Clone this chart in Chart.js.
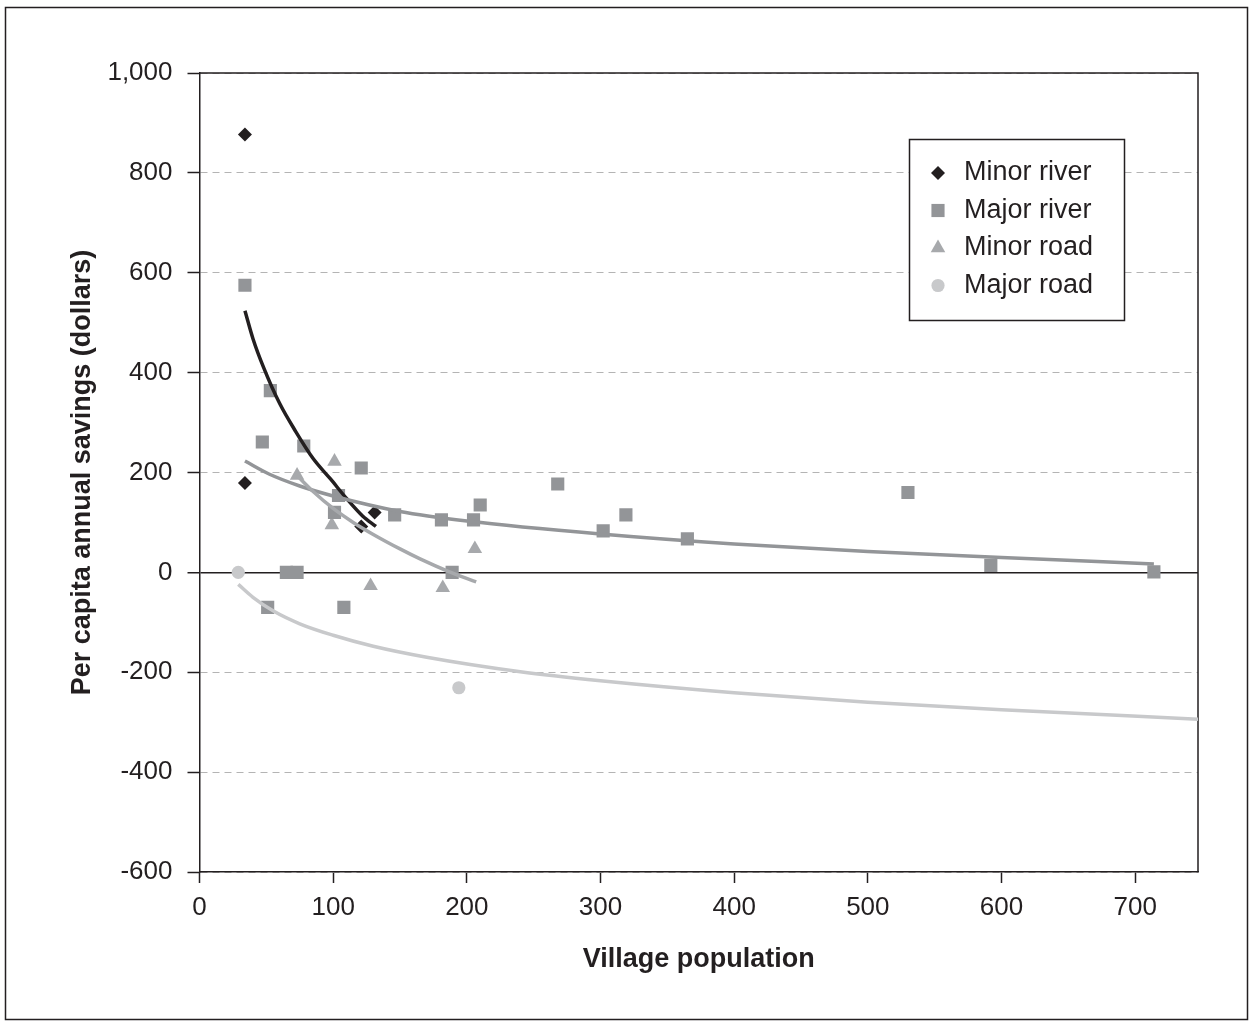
<!DOCTYPE html>
<html>
<head>
<meta charset="utf-8">
<script src="https://cdn.jsdelivr.net/npm/chart.js@4/dist/chart.umd.min.js"></script>
<style>
  html, body { margin: 0; padding: 0; background: #fff; }
  #wrap { width: 1253px; height: 1024px; }
</style>
</head>
<body>
<div id="wrap"><canvas id="chart" width="1253" height="1024"></canvas></div>
<script>
/* Per capita annual savings vs village population — scatter + trendlines */

const seriesNames = ["Minor river", "Major river", "Minor road", "Major road"];

const minorRiverX = [34, 34, 121, 131];
const minorRiverY = [877, 179, 92, 120];

const majorRiverX = [34, 53, 47, 78, 121, 104, 101, 146, 65, 73, 51, 108, 189, 181, 205, 210, 268, 302, 319, 365, 530, 592, 714];
const majorRiverY = [575, 364, 261, 253, 209, 154, 120, 115, 0, 0, -70, -70, 0, 105, 105, 135, 177, 83, 115, 67, 160, 14, 1];

const minorRoadX = [73, 101, 99, 128, 182, 206];
const minorRoadY = [194, 222, 95, -27, -31, 47];

const majorRoadX = [29, 194];
const majorRoadY = [0, -231];

// trendlines
const minorRiverTrendX = [34, 40, 48, 60, 72, 85, 98, 110, 122, 132];
const minorRiverTrendY = [524, 468, 410, 338, 282, 228, 187, 148, 113, 92];
const majorRiverTrendX = [34, 52, 75, 100, 150, 200, 300, 400, 500, 600, 714];
const majorRiverTrendY = [223, 197, 173, 153, 122, 103, 77, 57, 42, 30, 17];
const minorRoadTrendX = [73, 85, 100, 115, 130, 150, 165, 187, 207];
const minorRoadTrendY = [194, 162, 128, 100, 76, 47, 27, 1, -19];
const majorRoadTrendX = [29, 40, 55, 75, 100, 130, 170, 240, 300, 400, 500, 600, 747];
const majorRoadTrendY = [-24, -50, -77, -103, -126, -148, -170, -199, -217, -241, -260, -275, -294];

const xMin = 0, xMax = 747, xStep = 100;
const yMin = -600, yMax = 1000, yStep = 200;

const INK = "#231f20";
const FONT = "'Liberation Sans', Arial, sans-serif";
const colors = ["#231f20", "#939598", "#a7a9ac", "#c8c9cb"];
const styles = ["rectRot", "rect", "triangle", "circle"];
const radii = [7, 9.3, 8.4, 6.6];

const pts = (xs, ys) => xs.map((x, i) => ({ x, y: ys[i] }));
const isZero = (ctx) => ctx.tick && ctx.tick.value === 0;
const isGrid = (ctx) => ctx.tick && ctx.tick.value !== 0;

const markerSets = [
  [minorRiverX, minorRiverY],
  [majorRiverX, majorRiverY],
  [minorRoadX, minorRoadY],
  [majorRoadX, majorRoadY],
].map(([xs, ys], i) => ({
  label: seriesNames[i],
  data: pts(xs, ys),
  showLine: false,
  pointStyle: styles[i],
  pointRadius: radii[i],
  pointHoverRadius: radii[i],
  pointBackgroundColor: colors[i],
  pointBorderWidth: 0,
  order: 1,
}));

const trendSets = [
  [minorRiverTrendX, minorRiverTrendY],
  [majorRiverTrendX, majorRiverTrendY],
  [minorRoadTrendX, minorRoadTrendY],
  [majorRoadTrendX, majorRoadTrendY],
].map(([xs, ys], i) => ({
  label: seriesNames[i] + " trend",
  data: pts(xs, ys),
  showLine: true,
  borderColor: colors[i],
  borderWidth: 3.5,
  pointRadius: 0,
  cubicInterpolationMode: "monotone",
  order: (3 - i) * 0.1,
}));

const framePlugin = {
  id: "frame",
  beforeDraw(chart) {
    const c = chart.ctx;
    c.save();
    c.fillStyle = "#fff";
    c.fillRect(0, 0, chart.width, chart.height);
    c.strokeStyle = INK;
    c.lineWidth = 1.5;
    c.strokeRect(5.5, 7.5, 1242, 1012);
    c.restore();
  },
  beforeDatasetsDraw(chart) {
    const a = chart.chartArea;
    const c = chart.ctx;
    c.save();
    c.strokeStyle = INK;
    c.lineWidth = 1.5;
    c.beginPath();
    c.moveTo(a.left, a.top);
    c.lineTo(a.right, a.top);
    c.lineTo(a.right, a.bottom);
    c.stroke();
    c.restore();
  },
  afterDraw(chart) {
    // legend box inside plot
    const c = chart.ctx;
    const bx = 909, by = 139, bw = 215, bh = 181;
    c.save();
    c.fillStyle = "#fff";
    c.fillRect(bx, by, bw, bh);
    c.strokeStyle = INK;
    c.lineWidth = 1.5;
    c.strokeRect(bx + 0.5, by + 0.5, bw, bh);
    c.font = "27px " + FONT;
    c.textBaseline = "middle";
    seriesNames.forEach((name, i) => {
      const y = 173 + i * 37.5;
      c.fillStyle = colors[i];
      Chart.helpers.drawPoint(c, { pointStyle: styles[i], radius: radii[i], rotation: 0, borderWidth: 0 }, 938, y);
      c.fillStyle = INK;
      c.fillText(name, 964, y);
    });
    c.restore();
  },
};

new Chart(document.getElementById("chart"), {
  type: "scatter",
  data: { datasets: [...trendSets, ...markerSets] },
  plugins: [framePlugin],
  options: {
    responsive: false,
    animation: false,
    layout: { padding: { top: 73, right: 55, left: 0, bottom: 0 } },
    plugins: { legend: { display: false }, tooltip: { enabled: false } },
    scales: {
      x: {
        type: "linear",
        min: xMin,
        max: xMax,
        afterFit: (s) => { s.height = 152; },
        ticks: {
          stepSize: xStep,
          includeBounds: false,
          color: INK,
          padding: 9,
          font: { family: FONT, size: 26 },
        },
        grid: { drawOnChartArea: false, tickLength: 11, tickColor: INK, tickWidth: 1.5 },
        border: { color: INK, width: 1.5 },
        title: {
          display: true,
          text: "Village population",
          color: INK,
          font: { family: FONT, size: 27, weight: "bold" },
          padding: { top: 0, bottom: 48 },
        },
      },
      y: {
        type: "linear",
        min: yMin,
        max: yMax,
        afterFit: (s) => { s.width = 199.5; },
        ticks: {
          stepSize: yStep,
          color: INK,
          padding: 15,
          font: { family: FONT, size: 26 },
          callback: (v) => Number(v).toLocaleString("en-US"),
        },
        grid: {
          color: (ctx) => (isZero(ctx) ? INK : "#b4b4b4"),
          lineWidth: (ctx) => (isZero(ctx) ? 1.5 : 1),
          borderDash: (ctx) => (isGrid(ctx) ? [7, 5] : []),
          tickBorderDash: [],
          tickLength: 12,
          tickColor: INK,
          tickWidth: 1.5,
        },
        border: {
          color: INK,
          width: 1.5,
          dash: (ctx) => (isGrid(ctx) ? [7, 5] : []),
        },
        title: {
          display: true,
          text: "Per capita annual savings (dollars)",
          color: INK,
          font: { family: FONT, size: 27, weight: "bold" },
          padding: { top: 66, bottom: 0 },
        },
      },
    },
  },
});
</script>
</body>
</html>
